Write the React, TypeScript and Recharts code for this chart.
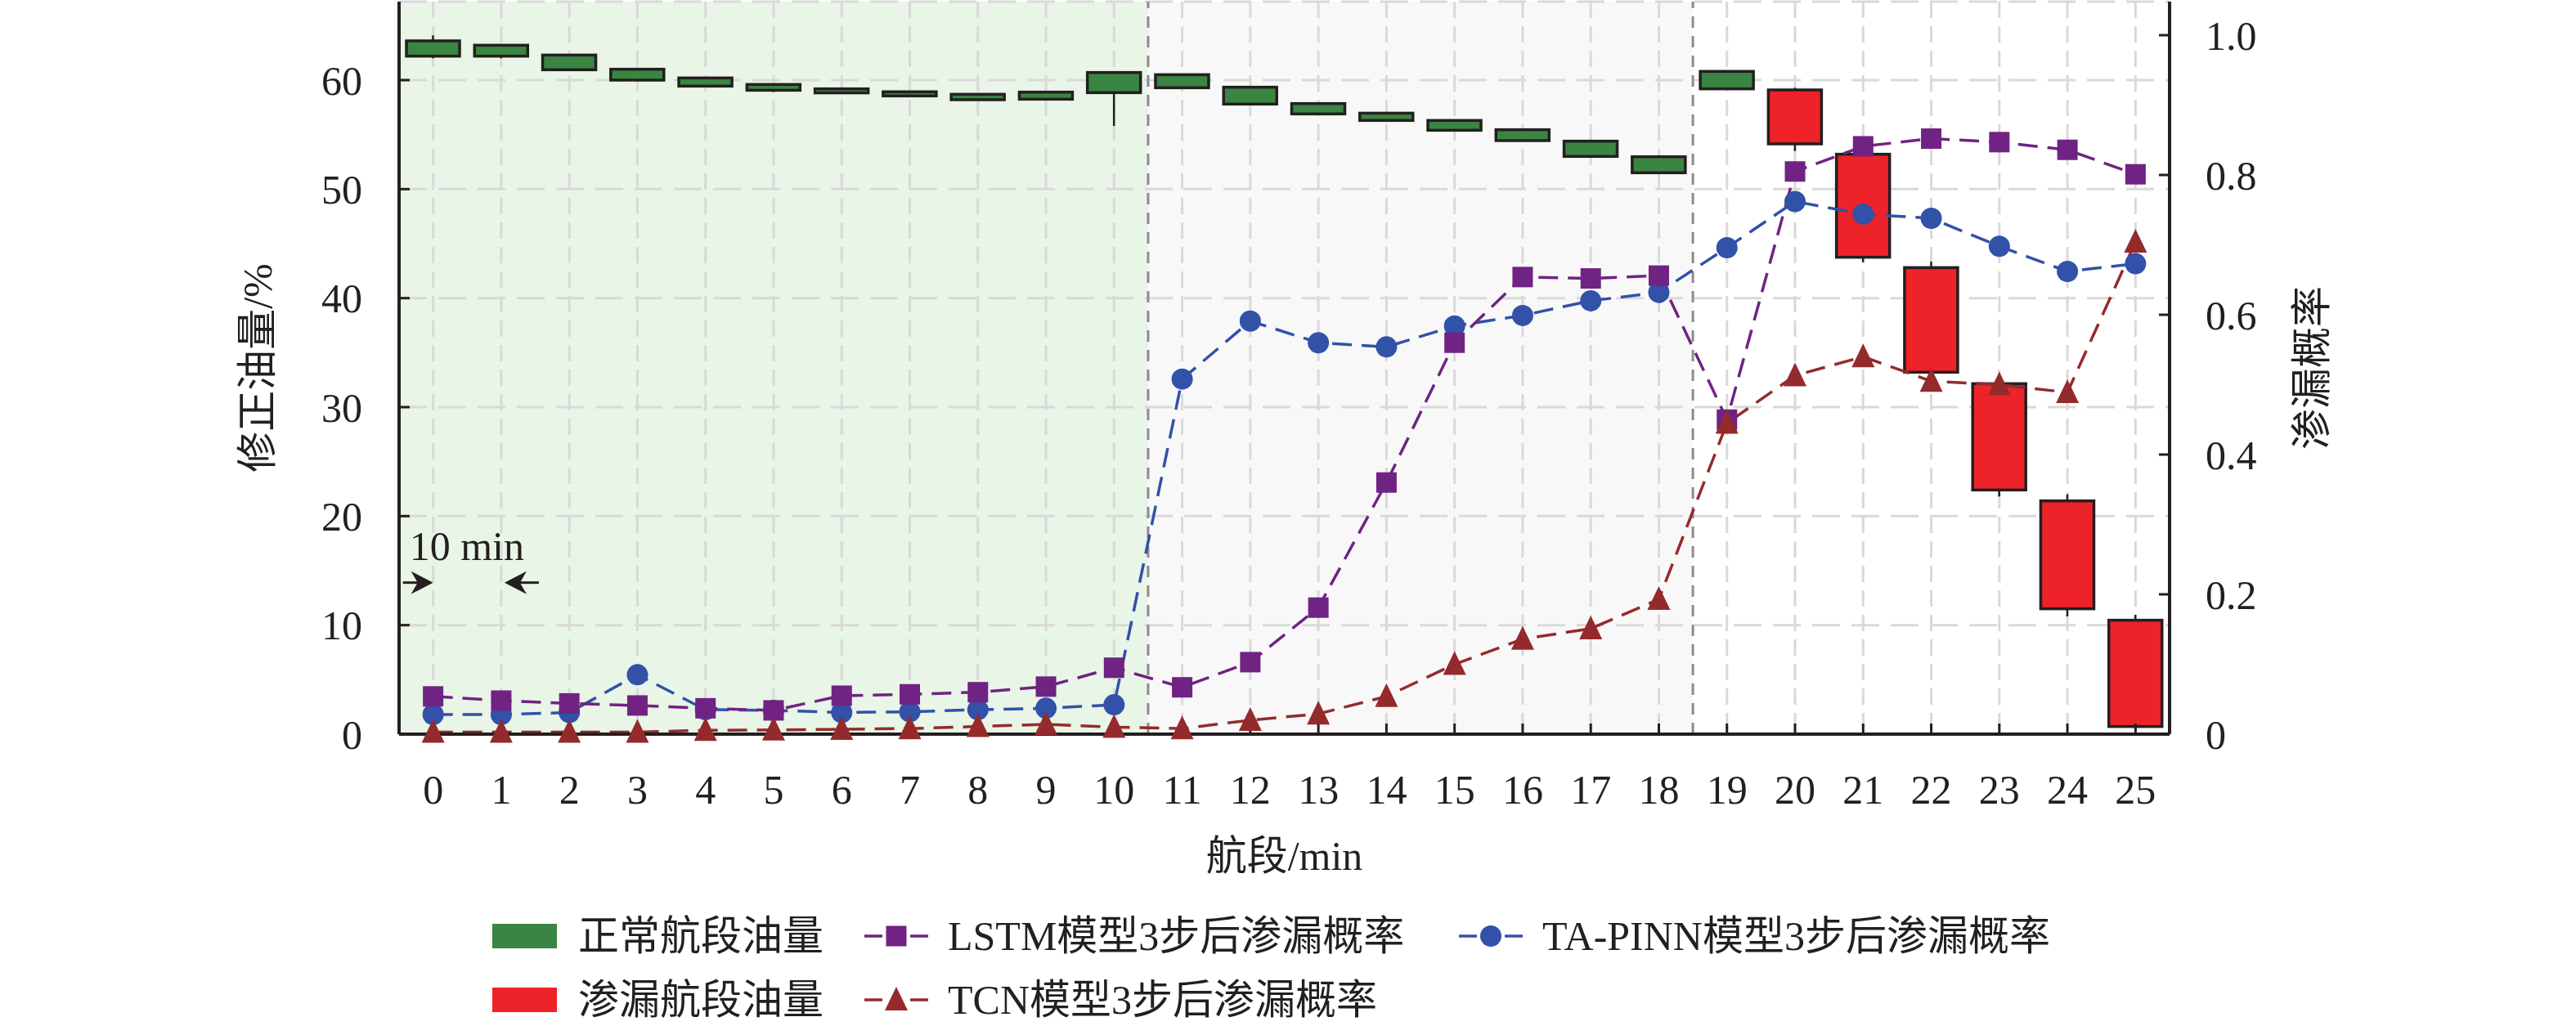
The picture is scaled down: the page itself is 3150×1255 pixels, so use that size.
import React from "react";
import {
  Bar,
  CartesianGrid,
  ComposedChart,
  Legend,
  Line,
  ReferenceArea,
  ReferenceDot,
  ReferenceLine,
  XAxis,
  YAxis,
} from "recharts";

const segments = [
  "0", "1", "2", "3", "4", "5", "6", "7", "8", "9", "10", "11", "12",
  "13", "14", "15", "16", "17", "18", "19", "20", "21", "22", "23", "24", "25",
];

// 正常航段油量 (segments 0–19)
const normalBoxLow = [62.2, 62.2, 60.95, 60.0, 59.45, 59.07, 58.83, 58.55, 58.2, 58.25, 58.85, 59.3, 57.8, 56.9, 56.3, 55.4, 54.45, 53.0, 51.5, 59.2];
const normalBoxHigh = [63.6, 63.2, 62.3, 61.0, 60.2, 59.6, 59.2, 58.93, 58.7, 58.9, 60.7, 60.5, 59.35, 57.85, 56.97, 56.3, 55.45, 54.4, 52.97, 60.8];
const normalWickLow = [62.0, 62.0, 60.9, 59.9, 59.4, 58.9, 58.8, 58.5, 58.2, 58.2, 55.8, 59.2, 57.7, 56.8, 56.2, 55.4, 54.4, 52.9, 51.5, 59.1];
const normalWickHigh = [64.1, 63.3, 62.4, 61.1, 60.2, 59.6, 59.3, 59.0, 58.7, 59.0, 60.7, 60.5, 59.4, 57.9, 57.0, 56.3, 55.5, 54.5, 53.0, 60.8];

// 渗漏航段油量 (segments 20–25)
const leakBoxLow = [54.15, 43.75, 33.2, 22.4, 11.5, 0.7];
const leakBoxHigh = [59.1, 53.2, 42.8, 32.15, 21.4, 10.45];
const leakWickLow = [53.5, 43.3, 33.0, 21.8, 10.8, 0.5];
const leakWickHigh = [59.3, 53.2, 43.35, 32.2, 22.0, 10.95];

// leak probabilities 3 steps ahead
const lstmProb = [0.054, 0.048, 0.044, 0.041, 0.037, 0.034, 0.055, 0.057, 0.06, 0.068, 0.095, 0.067, 0.103, 0.181, 0.36, 0.56, 0.654, 0.652, 0.656, 0.45, 0.805, 0.841, 0.852, 0.847, 0.836, 0.801];
const pinnProb = [0.028, 0.028, 0.031, 0.085, 0.035, 0.034, 0.031, 0.032, 0.035, 0.037, 0.042, 0.508, 0.591, 0.56, 0.554, 0.584, 0.599, 0.62, 0.632, 0.696, 0.762, 0.744, 0.738, 0.698, 0.662, 0.673];
const tcnProb = [0.003, 0.003, 0.003, 0.003, 0.0055, 0.006, 0.007, 0.008, 0.011, 0.014, 0.01, 0.008, 0.02, 0.029, 0.054, 0.1, 0.136, 0.151, 0.193, 0.445, 0.513, 0.54, 0.505, 0.5, 0.489, 0.704];

const leftTicks = [0, 10, 20, 30, 40, 50, 60];
const rightTicks = [0, 0.2, 0.4, 0.6, 0.8, 1.0];

const GREEN = "#3a8541";
const RED = "#ee2229";
const PURPLE = "#702382";
const BLUE = "#3251a8";
const DARKRED = "#952a2d";
const EDGE = "#231f20";
const FONT = '"Liberation Serif", "Times New Roman", "Noto Sans CJK SC", serif';

const leakStart = normalBoxLow.length;

const data = segments.map((segment, i) => {
  const leak = i >= leakStart;
  const j = i - leakStart;
  return {
    segment,
    leak,
    box: leak ? [leakBoxLow[j], leakBoxHigh[j]] : [normalBoxLow[i], normalBoxHigh[i]],
    wickLow: leak ? leakWickLow[j] : normalWickLow[i],
    wickHigh: leak ? leakWickHigh[j] : normalWickHigh[i],
    lstm: lstmProb[i],
    pinn: pinnProb[i],
    tcn: tcnProb[i],
  };
});

function CandleShape(props: any) {
  const { x, y, width, height, payload } = props;
  if (!payload || !payload.box || !height) return null;
  const [lo, hi] = payload.box;
  const k = height / (hi - lo);
  const top = y - (payload.wickHigh - hi) * k;
  const bottom = y + height + (lo - payload.wickLow) * k;
  const cx = x + width / 2;
  return (
    <g>
      <line x1={cx} x2={cx} y1={top} y2={bottom} stroke={EDGE} strokeWidth={2.5} />
      <rect
        x={x}
        y={y}
        width={width}
        height={height}
        fill={payload.leak ? RED : GREEN}
        stroke={EDGE}
        strokeWidth={3.5}
      />
    </g>
  );
}

function marker(kind: string, cx: number, cy: number, color: string, key?: string) {
  if (kind === "square") {
    return <rect key={key} x={cx - 12.5} y={cy - 12.5} width={25} height={25} fill={color} />;
  }
  if (kind === "triangle") {
    return (
      <path key={key} d={`M${cx},${cy - 16} L${cx + 14},${cy + 13} L${cx - 14},${cy + 13} Z`} fill={color} />
    );
  }
  return <circle key={key} cx={cx} cy={cy} r={13} fill={color} />;
}

const makeDot = (kind: string, color: string) => (p: any) =>
  marker(kind, p.cx, p.cy, color, `${kind}-${p.index}`);

const legendItems = [
  { kind: "box", color: GREEN, label: "正常航段油量", x: 602, row: 0 },
  { kind: "square", color: PURPLE, label: "LSTM模型3步后渗漏概率", x: 1057, row: 0 },
  { kind: "circle", color: BLUE, label: "TA-PINN模型3步后渗漏概率", x: 1784, row: 0 },
  { kind: "box", color: RED, label: "渗漏航段油量", x: 602, row: 1 },
  { kind: "triangle", color: DARKRED, label: "TCN模型3步后渗漏概率", x: 1057, row: 1 },
];

function LegendContent() {
  const rowY = [45, 123];
  return (
    <svg width={3150} height={160} style={{ display: "block" }}>
      {legendItems.map((item) => {
        const cy = rowY[item.row];
        return (
          <g key={item.label}>
            {item.kind === "box" ? (
              <rect x={item.x} y={cy - 15} width={79} height={30} fill={item.color} />
            ) : (
              <g>
                <line x1={item.x} x2={item.x + 22} y1={cy} y2={cy} stroke={item.color} strokeWidth={3.5} />
                <line x1={item.x + 56} x2={item.x + 78} y1={cy} y2={cy} stroke={item.color} strokeWidth={3.5} />
                {marker(item.kind, item.x + 39, cy, item.color)}
              </g>
            )}
            <text
              x={item.x + (item.kind === "box" ? 105 : 102)}
              y={cy}
              dominantBaseline="central"
              fontSize={50}
              fontFamily={FONT}
              fill={EDGE}
            >
              {item.label}
            </text>
          </g>
        );
      })}
    </svg>
  );
}

function ArrowRight(p: any) {
  const { cx, cy } = p;
  return (
    <g>
      <text x={cx - 29} y={cy - 28} fontSize={50} fontFamily={FONT} fill={EDGE}>
        10 min
      </text>
      <line x1={cx - 37} x2={cx - 18} y1={cy} y2={cy} stroke={EDGE} strokeWidth={3} />
      <path d={`M${cx},${cy} L${cx - 27},${cy - 14} L${cx - 19},${cy} L${cx - 27},${cy + 14} Z`} fill={EDGE} />
    </g>
  );
}

function ArrowLeft(p: any) {
  const { cx, cy } = p;
  const tip = cx + 4;
  return (
    <g>
      <line x1={tip + 18} x2={tip + 42} y1={cy} y2={cy} stroke={EDGE} strokeWidth={3} />
      <path d={`M${tip},${cy} L${tip + 27},${cy - 14} L${tip + 19},${cy} L${tip + 27},${cy + 14} Z`} fill={EDGE} />
    </g>
  );
}

const tickStyle = { fontSize: 50, fontFamily: FONT, fill: EDGE };

export default function App() {
  return (
    <div style={{ position: "absolute", left: 0, top: 0, width: 3150, height: 1255, background: "#fff" }}>
      <ComposedChart
        width={3150}
        height={1255}
        data={data}
        margin={{ top: 2, right: 297, bottom: 177, left: 250 }}
        style={{ fontFamily: FONT }}
      >
        <ReferenceArea yAxisId="left" x1="0" x2="10" fill="#e8f5e7" fillOpacity={1} zIndex={-150} />
        <ReferenceArea yAxisId="left" x1="11" x2="18" fill="#f8f8f8" fillOpacity={1} zIndex={-150} />
        <ReferenceArea yAxisId="left" x1="19" x2="25" fill="#fcfbe9" fillOpacity={1} zIndex={-150} />
        <CartesianGrid yAxisId="left" vertical={false} stroke="#d9d9d9" strokeWidth={3} strokeDasharray="34 14" />
        <CartesianGrid yAxisId="left" horizontal={false} stroke="#d9d9d9" strokeWidth={3} strokeDasharray="20 10" />
        <ReferenceLine yAxisId="left" x="11" position="start" stroke="#8c8c8c" strokeWidth={3} strokeDasharray="14 10" />
        <ReferenceLine yAxisId="left" x="19" position="start" stroke="#8c8c8c" strokeWidth={3} strokeDasharray="14 10" />

        <XAxis
          dataKey="segment"
          interval={0}
          height={180}
          tick={tickStyle}
          tickSize={-13}
          tickMargin={62}
          axisLine={{ stroke: EDGE, strokeWidth: 4 }}
          tickLine={{ stroke: EDGE, strokeWidth: 3 }}
          label={{
            content: (p: any) => {
              const vb = p.viewBox || { x: 488, y: 898, width: 2165, height: 180 };
              return (
                <text
                  x={vb.x + vb.width / 2}
                  y={vb.y + 149}
                  textAnchor="middle"
                  dominantBaseline="central"
                  fontSize={50}
                  fontFamily={FONT}
                  fill={EDGE}
                >
                  航段/min
                </text>
              );
            },
          }}
        />
        <XAxis
          xAxisId="top"
          dataKey="segment"
          orientation="top"
          height={0}
          tick={false}
          tickLine={false}
          axisLine={{ stroke: EDGE, strokeWidth: 4 }}
        />
        <YAxis
          yAxisId="left"
          width={238}
          domain={[0, 67.2]}
          ticks={leftTicks}
          interval={0}
          tick={tickStyle}
          tickSize={-13}
          tickMargin={58}
          axisLine={{ stroke: EDGE, strokeWidth: 4 }}
          tickLine={{ stroke: EDGE, strokeWidth: 3 }}
          label={{
            content: (p: any) => {
              const vb = p.viewBox || { x: 250, y: 2, width: 238, height: 896 };
              const x = vb.x + vb.width - 173;
              const y = vb.y + vb.height / 2;
              return (
                <text
                  x={x}
                  y={y}
                  transform={`rotate(-90, ${x}, ${y})`}
                  textAnchor="middle"
                  dominantBaseline="central"
                  fontSize={50}
                  fontFamily={FONT}
                  fill={EDGE}
                >
                  修正油量/%
                </text>
              );
            },
          }}
        />
        <YAxis
          yAxisId="right"
          orientation="right"
          width={200}
          domain={[0, 1.048]}
          ticks={rightTicks}
          interval={0}
          tick={tickStyle}
          tickSize={-13}
          tickMargin={57}
          tickFormatter={(v: number) => (v === 0 ? "0" : v.toFixed(1))}
          axisLine={{ stroke: EDGE, strokeWidth: 4 }}
          tickLine={{ stroke: EDGE, strokeWidth: 3 }}
          label={{
            content: (p: any) => {
              const vb = p.viewBox || { x: 2653, y: 2, width: 200, height: 896 };
              const x = vb.x + 174;
              const y = vb.y + vb.height / 2;
              return (
                <text
                  x={x}
                  y={y}
                  transform={`rotate(-90, ${x}, ${y})`}
                  textAnchor="middle"
                  dominantBaseline="central"
                  fontSize={50}
                  fontFamily={FONT}
                  fill={EDGE}
                >
                  渗漏概率
                </text>
              );
            },
          }}
        />

        <Bar
          yAxisId="left"
          dataKey="box"
          barSize={65}
          shape={CandleShape}
          isAnimationActive={false}
        />
        <Line
          yAxisId="right"
          type="linear"
          dataKey="pinn"
          stroke={BLUE}
          strokeWidth={3.5}
          strokeDasharray="24 12"
          dot={makeDot("circle", BLUE)}
          activeDot={false}
          isAnimationActive={false}
        />
        <Line
          yAxisId="right"
          type="linear"
          dataKey="lstm"
          stroke={PURPLE}
          strokeWidth={3.5}
          strokeDasharray="24 12"
          dot={makeDot("square", PURPLE)}
          activeDot={false}
          isAnimationActive={false}
        />
        <Line
          yAxisId="right"
          type="linear"
          dataKey="tcn"
          stroke={DARKRED}
          strokeWidth={3.5}
          strokeDasharray="24 12"
          dot={makeDot("triangle", DARKRED)}
          activeDot={false}
          isAnimationActive={false}
        />

        <ReferenceDot yAxisId="left" x="0" y={13.9} shape={ArrowRight} />
        <ReferenceDot yAxisId="left" x="1" y={13.9} shape={ArrowLeft} />

        <Legend
          layout="horizontal"
          verticalAlign="middle"
          align="center"
          wrapperStyle={{ left: 0, top: 1100, width: 3150, height: 160 }}
          content={() => <LegendContent />}
        />
      </ComposedChart>
    </div>
  );
}
